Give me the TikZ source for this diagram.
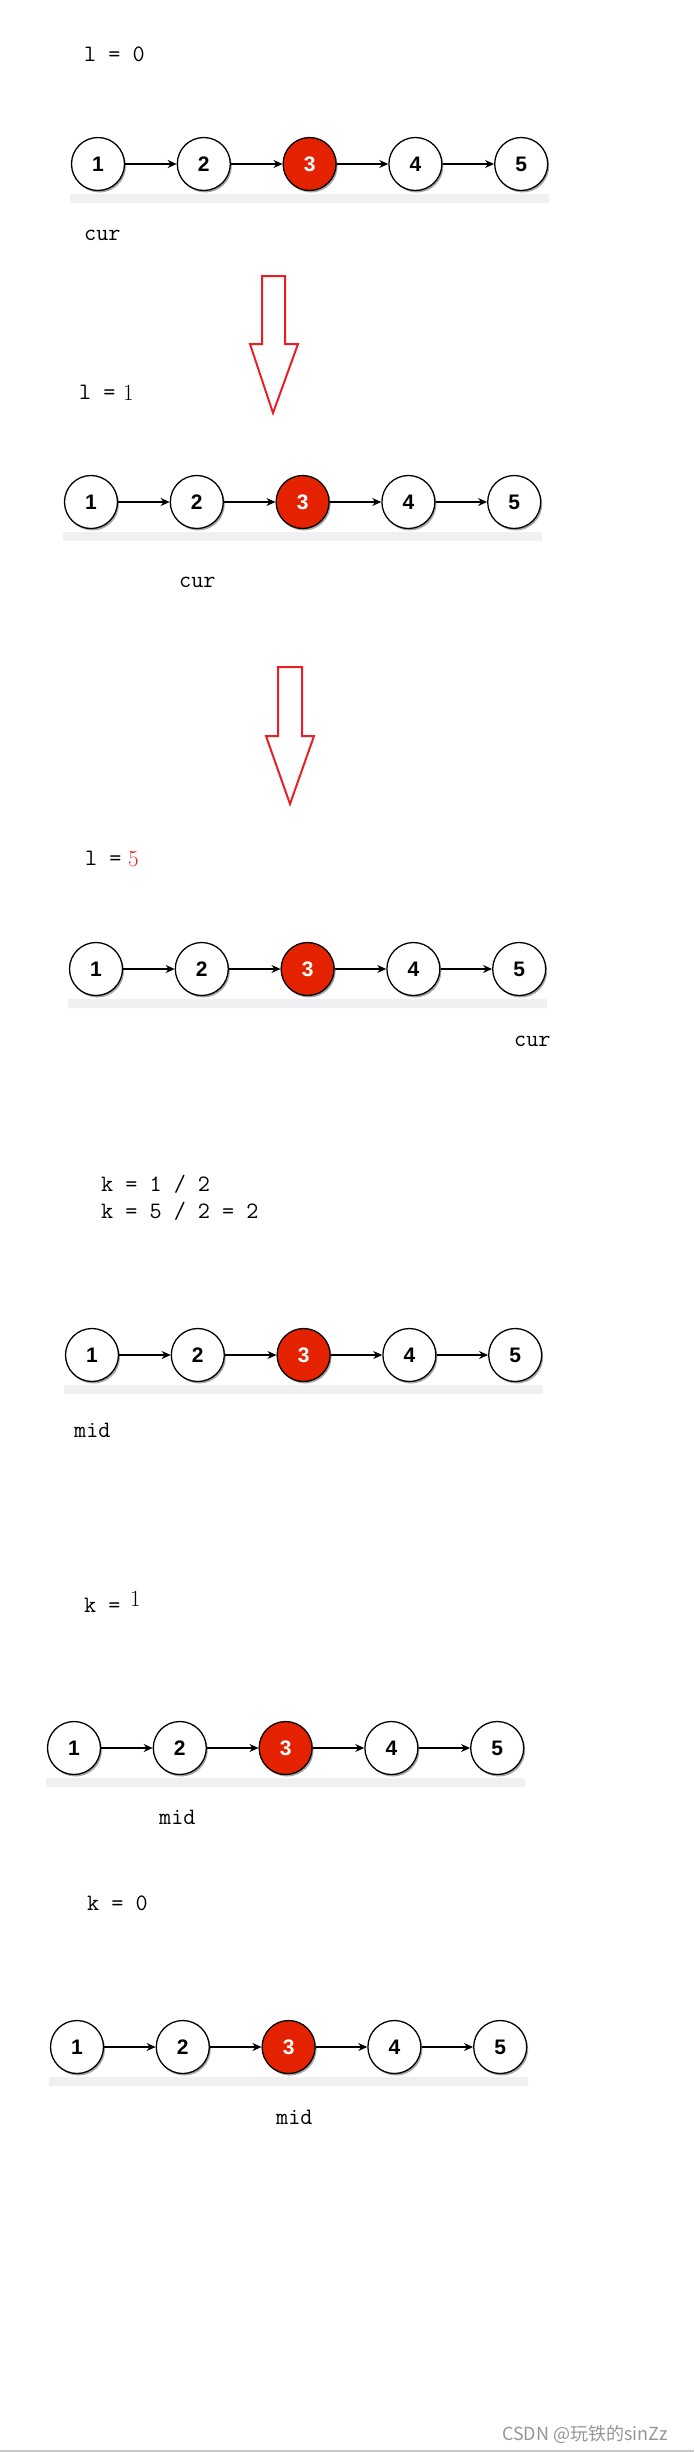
\documentclass[tikz,border=0pt]{standalone}
\usepackage{fontspec}
\usetikzlibrary{arrows.meta,shadows}
\newfontfamily\nodefont{Liberation Sans}
\newfontfamily\cjkfont{Noto Sans CJK SC}
\definecolor{hotred}{RGB}{229,34,0}
\definecolor{arrowred}{RGB}{234,30,38}
\definecolor{barfill}{RGB}{240,240,242}
\definecolor{wmgray}{RGB}{150,150,150}
\newcommand\monotext{\fontsize{23.5}{28}\selectfont\ttfamily}
\newcommand\romtext{\fontsize{23}{28}\selectfont\rmfamily}
\tikzset{
  llnode/.style={circle, draw=black, line width=1.3pt, fill=white, minimum size=53pt, inner sep=0pt,
    font=\nodefont\bfseries\fontsize{21}{21}\selectfont,
    drop shadow={shadow xshift=1.5pt, shadow yshift=-2pt, fill=black, opacity=0.35}},
  hot/.style={fill=hotred, text=white},
  link/.style={draw=black, line width=1.2pt, -{Stealth[length=9pt,width=8pt]}},
  lbl/.style={anchor=base west, inner sep=0pt, font=\monotext},
  fatarrow/.style={draw=arrowred, line width=2pt, line join=miter},
}
\newcommand\llrow[3]{%
  \fill[barfill, rounded corners=1pt] ({#2-28},{#3+30}) rectangle ({#2+451},{#3+39});
  \foreach \i in {1,...,5}{%
    \ifnum\i=3
      \node[llnode,hot] (#1-\i) at ({#2+(\i-1)*105.8},#3) {\i};
    \else
      \node[llnode] (#1-\i) at ({#2+(\i-1)*105.8},#3) {\i};
    \fi}
  \draw[link] (#1-1) -- (#1-2);
  \draw[link] (#1-2) -- (#1-3);
  \draw[link] (#1-3) -- (#1-4);
  \draw[link] (#1-4) -- (#1-5);
}
\begin{document}
\begin{tikzpicture}[x=1pt,y=-1pt]
\useasboundingbox (0,0) rectangle (694,2452);
\fill[white] (0,0) rectangle (694,2452);

% panel 1
\node[lbl] (t1) at (84,61) {l = 0};
\llrow{a}{98}{164}
\node[lbl] (c1) at (84,240) {cur};

% arrow 1
\draw[fatarrow] (262,276) -- (285,276) -- (285,344) -- (298,344) -- (273,413) -- (250,344) -- (262,344) -- cycle;

% panel 2
\node[lbl] (t2) at (79,399) {l =};
\node[anchor=base west, inner sep=0pt, font=\romtext] (t2b) at (123,400) {1};
\llrow{b}{91}{502}
\node[lbl] (c2) at (179,587) {cur};

% arrow 2
\draw[fatarrow] (278,667) -- (302,667) -- (302,736) -- (314,736) -- (290,804) -- (266,736) -- (278,736) -- cycle;

% panel 3
\node[lbl] (t3) at (85,865) {l =};
\node[anchor=base west, inner sep=0pt, font=\romtext, text=arrowred] (t3b) at (128,866) {5};
\llrow{c}{96}{969}
\node[lbl] (c3) at (514,1046) {cur};

% panel 4
\node[lbl] (t4) at (101,1191) {k = 1 / 2};
\node[lbl] (t4b) at (101,1218) {k = 5 / 2 = 2};
\llrow{d}{92}{1355}
\node[lbl] (m4) at (74,1437) {mid};

% panel 5
\node[lbl] (t5) at (84,1612) {k =};
\node[anchor=base west, inner sep=0pt, font=\romtext] (t5b) at (130,1606) {1};
\llrow{e}{74}{1748}
\node[lbl] (m5) at (159,1824) {mid};

% panel 6
\node[lbl] (t6) at (87,1910) {k = 0};
\llrow{f}{77}{2047}
\node[lbl] (m6) at (276,2124) {mid};

% watermark
\node[anchor=base west, inner sep=0pt, text=wmgray, font=\cjkfont\fontsize{18}{18}\selectfont] (wm) at (502,2440) {CSDN @玩铁的sinZz};
\draw[line width=1.5pt, draw={rgb,255:red,200;green,200;blue,200}] (0,2451) -- (694,2451);
\end{tikzpicture}
\end{document}
